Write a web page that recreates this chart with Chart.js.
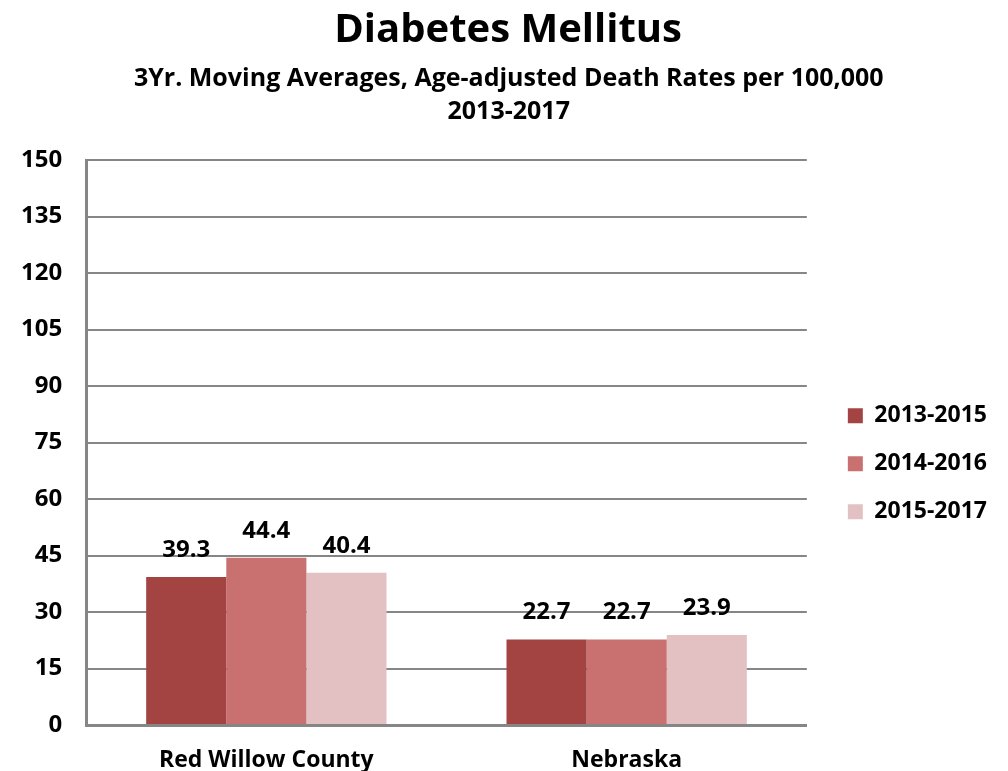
<!DOCTYPE html>
<html>
<head>
<meta charset="utf-8">
<script src="https://cdn.jsdelivr.net/npm/chart.js@4.4.0/dist/chart.umd.min.js"></script>
<style>
  html, body { margin: 0; padding: 0; background: #fff; }
  #wrap { width: 1008px; height: 771px; }
</style>
</head>
<body>
<div id="wrap"><canvas id="myChart" width="1008" height="771"></canvas></div>
<script>
var categories = ["Red Willow County", "Nebraska"];
var seriesNames = ["2013-2015", "2014-2016", "2015-2017"];
var rates2013 = [39.3, 22.7];
var rates2014 = [44.4, 22.7];
var rates2015 = [40.4, 23.9];
var barColors = ["#A44442", "#C87170", "#E3C1C3"];
var yTicks = [0, 15, 30, 45, 60, 75, 90, 105, 120, 135, 150];

var fontFamily = "'Open Sans'";

// values on top of the bars
var valueLabels = {
  id: 'valueLabels',
  afterDatasetsDraw: function (chart) {
    var ctx = chart.ctx;
    ctx.save();
    ctx.font = "bold 24px " + fontFamily;
    ctx.fillStyle = "#000";
    ctx.textAlign = "center";
    ctx.textBaseline = "middle";
    chart.data.datasets.forEach(function (ds, i) {
      chart.getDatasetMeta(i).data.forEach(function (bar, j) {
        ctx.fillText(ds.data[j].toFixed(1), bar.x, bar.y - 27);
      });
    });
    ctx.restore();
  }
};

window.onload = function () {
  var ctx = document.getElementById("myChart").getContext("2d");
  new Chart(ctx, {
    type: 'bar',
    data: {
      labels: categories,
      datasets: [
        { label: seriesNames[0], data: rates2013, backgroundColor: barColors[0] },
        { label: seriesNames[1], data: rates2014, backgroundColor: barColors[1] },
        { label: seriesNames[2], data: rates2015, backgroundColor: barColors[2] }
      ]
    },
    plugins: [valueLabels],
    options: {
      responsive: false,
      animation: false,
      layout: { padding: { left: -3, right: 20, bottom: 0 } },
      datasets: { bar: { categoryPercentage: 0.667, barPercentage: 1.0 } },
      plugins: {
        title: {
          display: true,
          // leading spaces nudge the centred title to the page middle
          text: "   Diabetes Mellitus",
          color: "#000",
          font: { family: fontFamily, size: 40, weight: "bold", lineHeight: 1.2 },
          padding: { top: 7, bottom: 8 }
        },
        subtitle: {
          display: true,
          text: ["     3Yr. Moving Averages, Age-adjusted Death Rates per 100,000", "     2013-2017"],
          color: "#000",
          font: { family: fontFamily, size: 25, weight: "bold", lineHeight: 1.3 },
          padding: { top: 0, bottom: 32 }
        },
        legend: {
          position: 'right',
          title: { display: true, text: "", padding: { top: 142, bottom: 0 } },
          labels: {
            color: "#000",
            font: { family: fontFamily, size: 23, weight: "bold" },
            boxWidth: 15,
            boxHeight: 15,
            padding: 25
          }
        },
        tooltip: { enabled: false }
      },
      scales: {
        x: {
          grid: { display: false, drawTicks: false },
          border: { color: "#868686", width: 3 },
          ticks: { color: "#000", font: { family: fontFamily, size: 23, weight: "bold" }, padding: 22 },
          afterFit: function (axis) { axis.height = 46; }
        },
        y: {
          min: 0,
          max: 150,
          afterBuildTicks: function (axis) {
            axis.ticks = yTicks.map(function (v) { return { value: v }; });
          },
          ticks: { color: "#000", font: { family: fontFamily, size: 24, weight: "bold" }, padding: 24 },
          grid: { color: "#868686", lineWidth: 2, drawTicks: false },
          border: { color: "#868686", width: 3 }
        },
        // empty axis that keeps a gap between the plot and the legend
        gap: {
          type: 'linear',
          position: 'right',
          display: true,
          grid: { display: false },
          border: { display: false },
          ticks: { display: false },
          afterFit: function (axis) { axis.width = 16; }
        }
      }
    }
  });
};
</script>
</body>
</html>
